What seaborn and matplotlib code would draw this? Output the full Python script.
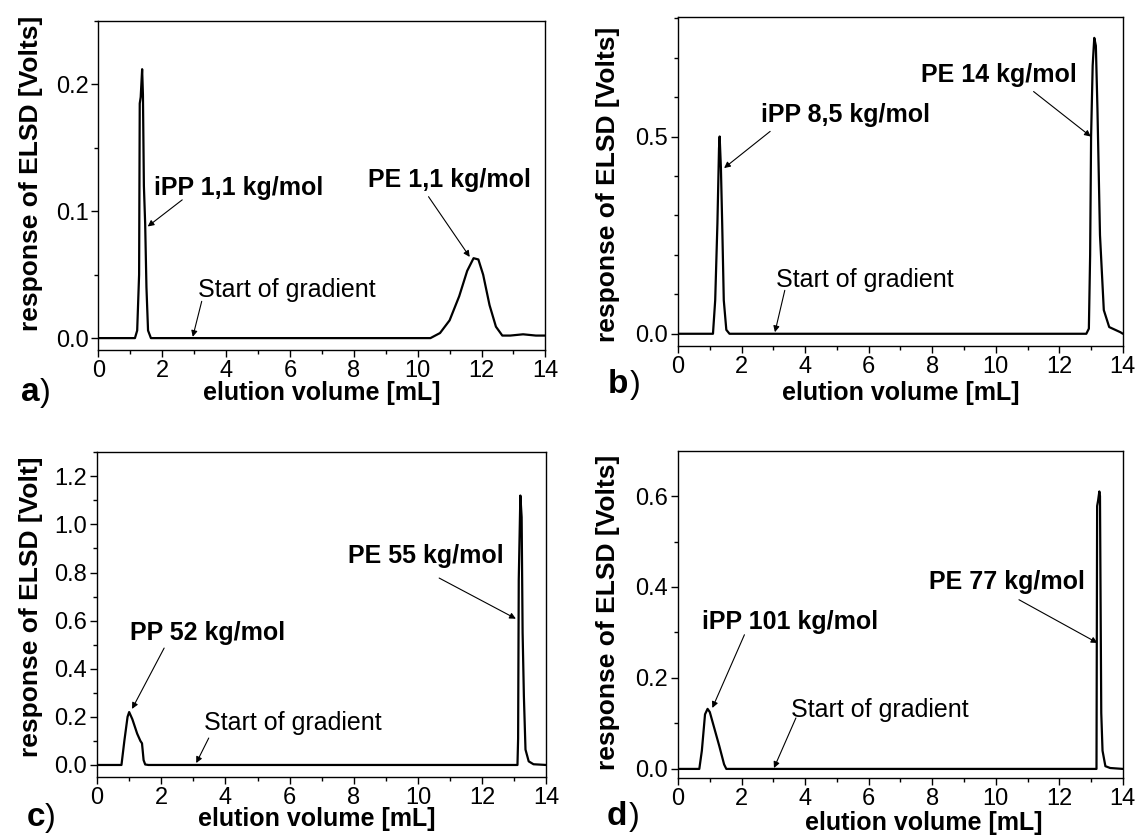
import matplotlib
matplotlib.use("Agg")
import matplotlib.pyplot as plt
from matplotlib.ticker import MultipleLocator, FormatStrFormatter
import numpy as np
import pandas as pd
import seaborn as sns

# %% chromatogram traces (elution volume mL, ELSD response V)
a_x = [0, 1.15, 1.22, 1.28, 1.30, 1.33, 1.375, 1.40, 1.43, 1.47, 1.51, 1.56, 1.65,
       10.4, 10.7, 11.0, 11.3, 11.55, 11.75, 11.9, 12.05, 12.25, 12.45, 12.65, 12.9, 13.3, 13.7, 14.0]
a_y = [0, 0, 0.006, 0.05, 0.185, 0.19, 0.212, 0.192, 0.12, 0.09, 0.04, 0.006, 0,
       0, 0.004, 0.014, 0.033, 0.053, 0.063, 0.062, 0.05, 0.026, 0.009, 0.002, 0.002, 0.003, 0.002, 0.002]

b_x = [0, 1.10, 1.17, 1.24, 1.29, 1.31, 1.35, 1.39, 1.44, 1.52, 1.62,
       12.85, 12.93, 12.97, 13.0, 13.05, 13.1, 13.15, 13.2, 13.28, 13.4, 13.57, 13.92, 14.0]
b_y = [0, 0, 0.085, 0.28, 0.47, 0.50, 0.42, 0.28, 0.085, 0.01, 0,
       0, 0.013, 0.2, 0.5, 0.68, 0.75, 0.73, 0.57, 0.25, 0.06, 0.017, 0.004, 0.0]

c_x = [0, 0.76, 0.85, 0.95, 1.0, 1.1, 1.25, 1.35, 1.4, 1.45, 1.5, 1.6,
       13.1, 13.12, 13.14, 13.19, 13.23, 13.26, 13.3, 13.35, 13.45, 13.6, 14.0]
c_y = [0, 0, 0.1, 0.2, 0.22, 0.19, 0.13, 0.1, 0.09, 0.02, 0.002, 0,
       0, 0.11, 0.77, 1.12, 1.03, 0.55, 0.285, 0.064, 0.015, 0.003, 0]

d_x = [0, 0.67, 0.75, 0.85, 0.93, 1.0, 1.1, 1.3, 1.45, 1.52,
       13.17, 13.19, 13.22, 13.26, 13.28, 13.30, 13.32, 13.36, 13.45, 13.6, 14.0]
d_y = [0, 0, 0.04, 0.12, 0.132, 0.125, 0.1, 0.05, 0.01, 0,
       0, 0.578, 0.59, 0.61, 0.6, 0.357, 0.123, 0.04, 0.006, 0.002, 0]

panel_letters = ["a", "b", "c", "d"]
ylabels = ["response of ELSD [Volts]", "response of ELSD [Volts]",
           "response of ELSD [Volt]", "response of ELSD [Volts]"]
peak_labels = [("iPP 1,1 kg/mol", "PE 1,1 kg/mol"),
               ("iPP 8,5 kg/mol", "PE 14 kg/mol"),
               ("PP 52 kg/mol", "PE 55 kg/mol"),
               ("iPP 101 kg/mol", "PE 77 kg/mol")]

# %%
sns.set_style("ticks")
plt.rcParams["font.family"] = ["Liberation Sans", "DejaVu Sans"]
plt.rcParams["axes.linewidth"] = 1.0
plt.rcParams["text.color"] = "black"
plt.rcParams["axes.labelcolor"] = "black"
plt.rcParams["axes.edgecolor"] = "black"
plt.rcParams["xtick.color"] = "black"
plt.rcParams["ytick.color"] = "black"

fig = plt.figure(figsize=(11.38, 8.4), dpi=100)

# axes boxes (left, bottom, width, height)
rects = [(0.0863, 0.5833, 0.3930, 0.3917),
         (0.5958, 0.5881, 0.3909, 0.3917),
         (0.0853, 0.0750, 0.3948, 0.3869),
         (0.5958, 0.0738, 0.3909, 0.3893)]
ylims = [(-0.0094, 0.25), (-0.031, 0.803), (-0.05, 1.301), (-0.02, 0.699)]
ymajor = [0.1, 0.5, 0.2, 0.2]
yminor = [0.05, 0.1, 0.1, 0.1]
ylab_pos = [(-0.150, 0.538), (-0.158, 0.49), (-0.148, 0.523), (-0.158, 0.508)]
xlab_pos = [(0.5, -0.131), (0.5, -0.143), (0.49, -0.128), (0.552, -0.137)]

# text positions / arrows (text left x, text center y, arrow tail, arrow tip)
notes = [
    [((1.76, 0.118), (2.63, 0.109), (1.55, 0.088)),
     ((8.44, 0.125), (10.34, 0.1115), (11.63, 0.064)),
     ((3.13, 0.038), (3.24, 0.029), (2.96, 0.001))],
    [((2.61, 0.555), (2.90, 0.513), (1.45, 0.42)),
     ((7.66, 0.657), (11.19, 0.614), (12.99, 0.50)),
     ((3.07, 0.136), (3.36, 0.11), (3.05, 0.004))],
    [((1.03, 0.549), (2.09, 0.486), (1.09, 0.233)),
     ((7.82, 0.867), (10.66, 0.777), (13.05, 0.608)),
     ((3.32, 0.175), (3.48, 0.112), (3.09, 0.008))],
    [((0.754, 0.324), (2.09, 0.295), (1.08, 0.134)),
     ((7.89, 0.412), (10.73, 0.372), (13.2, 0.277)),
     ((3.54, 0.13), (3.71, 0.112), (3.02, 0.002))],
]
letter_pos = [((0.0185, 0.523), (0.0350, 0.523)),
              ((0.534, 0.532), (0.5535, 0.532)),
              ((0.0235, 0.0167), (0.0395, 0.0167)),
              ((0.533, 0.018), (0.5525, 0.018))]

traces = [(a_x, a_y), (b_x, b_y), (c_x, c_y), (d_x, d_y)]

for i, (xs, ys) in enumerate(traces):
    ax = fig.add_axes(rects[i])
    df = pd.DataFrame({"volume": xs, "response": ys})
    sns.lineplot(data=df, x="volume", y="response", ax=ax, color="black",
                 lw=1.6, estimator=None)
    ax.set_xlim(0, 14)
    ax.set_ylim(*ylims[i])
    ax.xaxis.set_major_locator(MultipleLocator(2))
    ax.xaxis.set_minor_locator(MultipleLocator(1))
    ax.yaxis.set_major_locator(MultipleLocator(ymajor[i]))
    ax.yaxis.set_minor_locator(MultipleLocator(yminor[i]))
    ax.yaxis.set_major_formatter(FormatStrFormatter("%.1f"))
    ax.tick_params(which="major", direction="out", length=5, width=1,
                   labelsize=17, colors="black", pad=2)
    ax.tick_params(which="minor", direction="out", length=3, width=1)
    for sp in ax.spines.values():
        sp.set_visible(True)
        sp.set_color("black")

    ax.set_xlabel("elution volume [mL]", fontsize=18, fontweight="bold")
    ax.set_ylabel(ylabels[i], fontsize=19, fontweight="bold")
    ax.xaxis.set_label_coords(*xlab_pos[i])
    ax.xaxis.label.set_va("center")
    ax.yaxis.set_label_coords(*ylab_pos[i])
    ax.yaxis.label.set_va("center")

    texts = [peak_labels[i][0], peak_labels[i][1], "Start of gradient"]
    for j, (txt_xy, tail, tip) in enumerate(notes[i]):
        ax.text(*txt_xy, texts[j], fontsize=18, va="center", ha="left",
                fontweight="normal" if j == 2 else "bold")
        ax.annotate("", xy=tip, xytext=tail,
                    arrowprops=dict(arrowstyle="-|>", lw=0.8, color="black",
                                    mutation_scale=9, shrinkA=0, shrinkB=0))

    (lx, ly), (px, py) = letter_pos[i]
    fig.text(lx, ly, panel_letters[i], fontsize=24, fontweight="bold", va="baseline")
    fig.text(px, ly, ")", fontsize=23, va="baseline")

fig.savefig("out.png", dpi=100)
